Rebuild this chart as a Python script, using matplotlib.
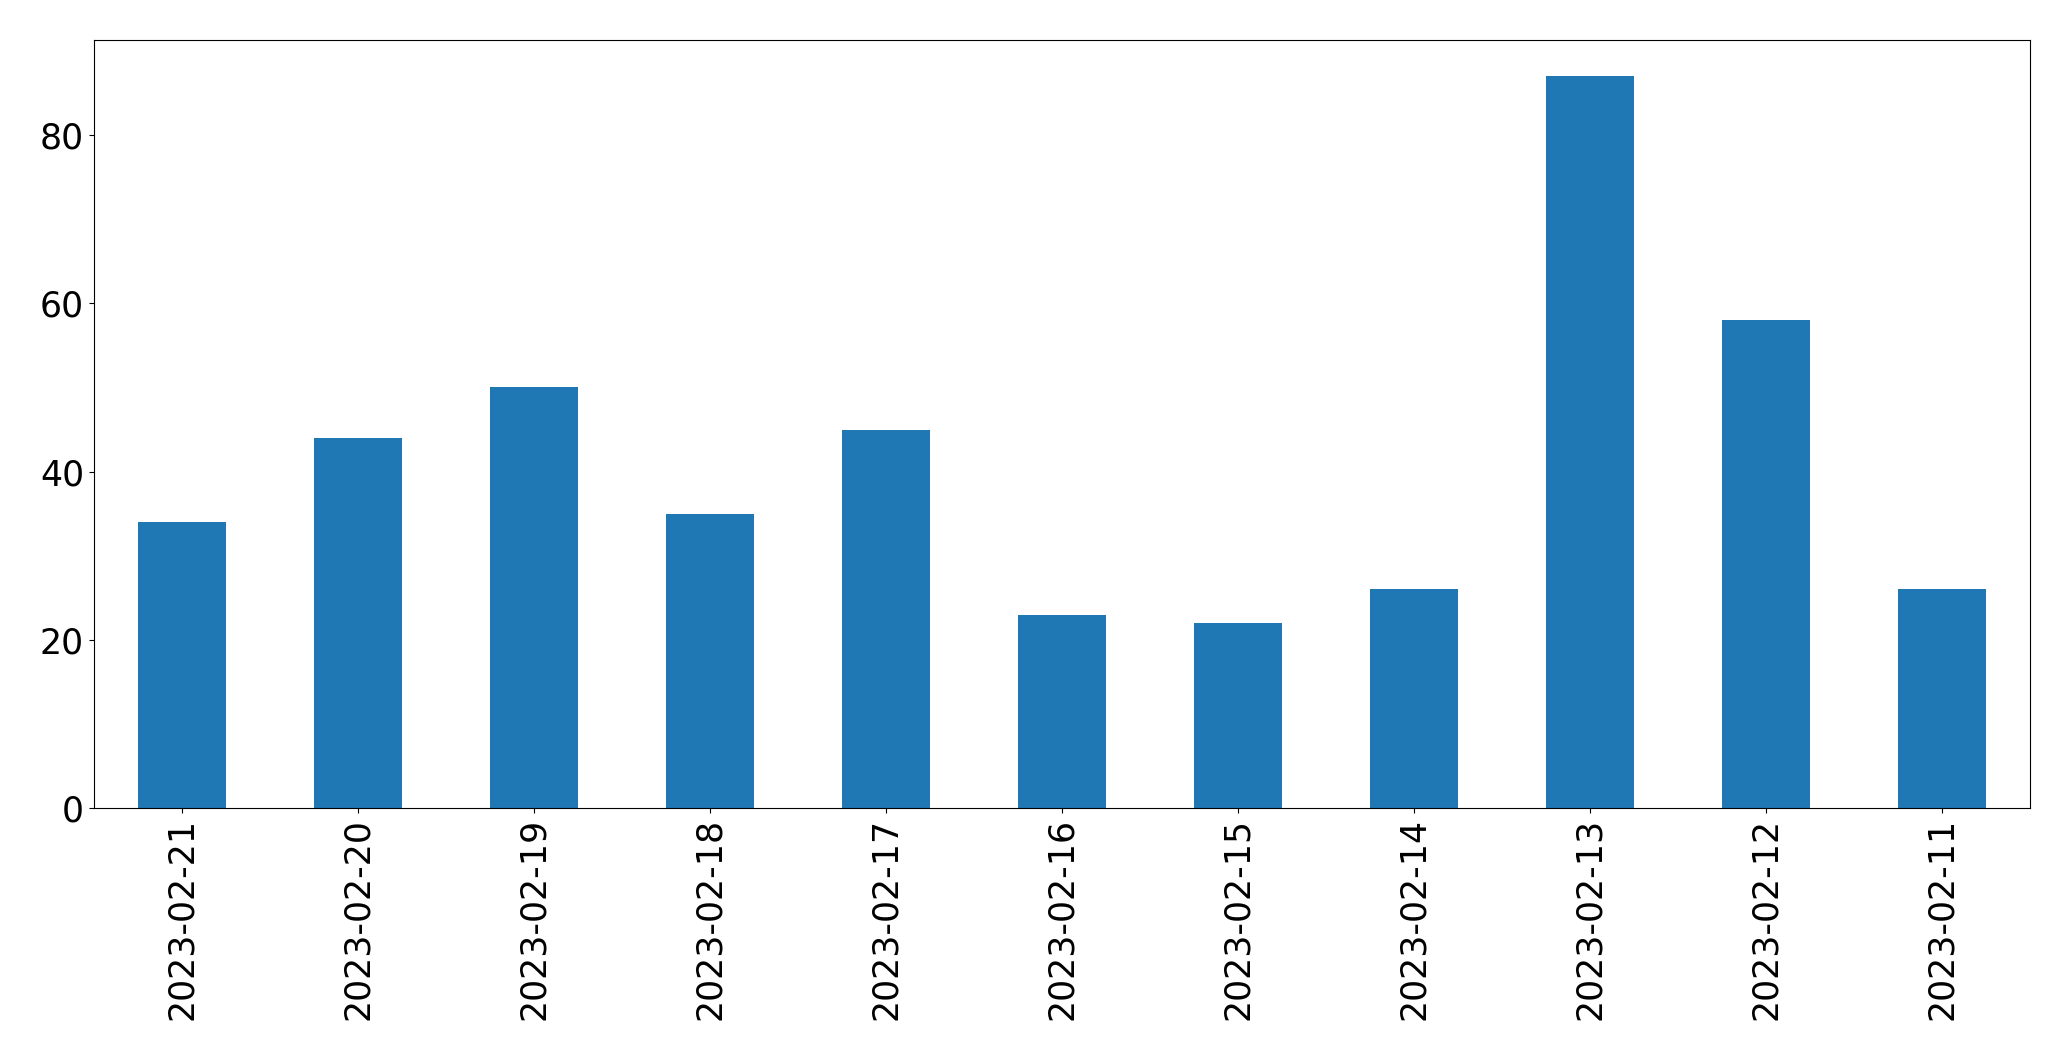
import matplotlib
matplotlib.use("Agg")
import matplotlib.pyplot as plt
import pandas as pd

dates = ["2023-02-21", "2023-02-20", "2023-02-19", "2023-02-18", "2023-02-17",
         "2023-02-16", "2023-02-15", "2023-02-14", "2023-02-13", "2023-02-12",
         "2023-02-11"]
counts = [34, 44, 50, 35, 45, 23, 22, 26, 87, 58, 26]

s = pd.Series(counts, index=dates)

fig = plt.figure(figsize=(20.71, 10.61), dpi=100)
ax = fig.add_axes([0.0453, 0.2383, 0.9347, 0.7244])
s.plot.bar(ax=ax, color="#1f77b4", width=0.5)
ax.tick_params(axis="both", labelsize=25)
fig.savefig("out.png", dpi=100)
